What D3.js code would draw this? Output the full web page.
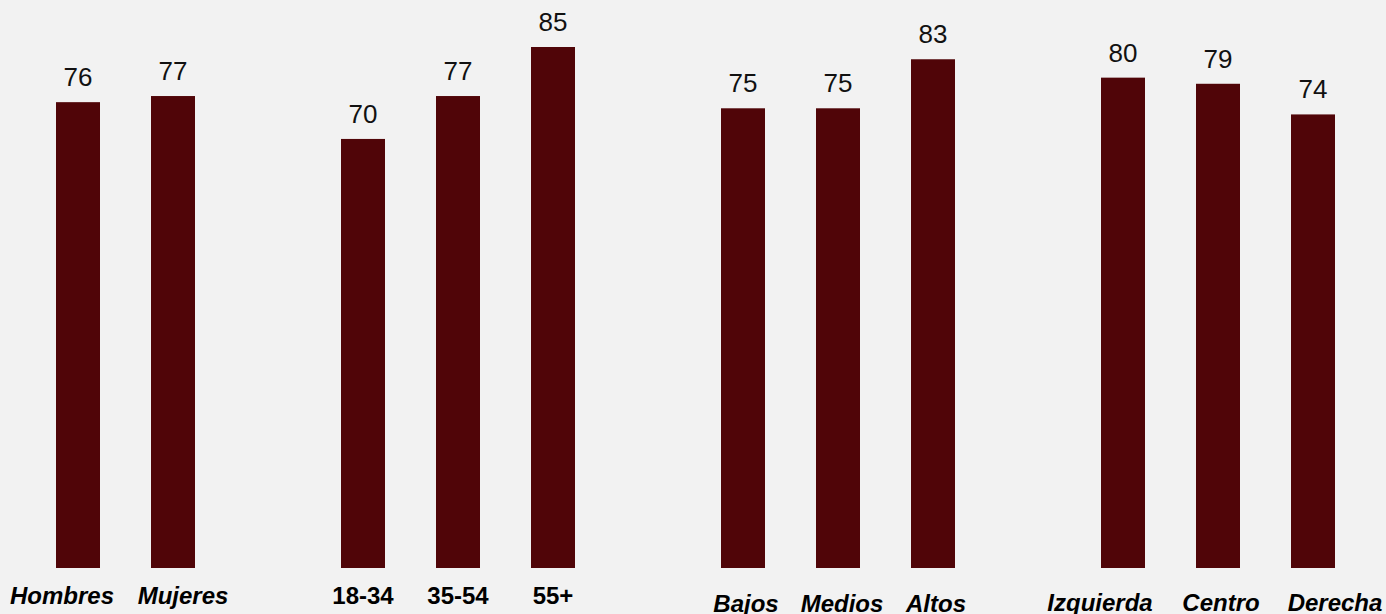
<!DOCTYPE html>
<html><head><meta charset="utf-8">
<script src="https://cdn.jsdelivr.net/npm/d3@7"></script>
<style>
html,body{margin:0;padding:0;background:#f2f2f2;}
svg{display:block;}
text{font-family:"Liberation Sans",Arial,sans-serif;}
</style></head>
<body>
<script>
// Data (empty strings = blank separator slots)
const categories = ["Hombres","Mujeres","","18-34","35-54","55+","","Bajos","Medios","Altos","","Izquierda","Centro","Derecha"];
const values     = [76, 77, null, 70, 77, 85, null, 75, 75, 83, null, 80, 79, 74];
const italicLabel = [true, true, false, false, false, false, false, true, true, true, false, true, true, true];

// Layout (styling only)
const W = 1386, H = 614;
const labelBaseline = [604, 604, 0, 604, 604, 604, 0, 612, 612, 612, 0, 611, 611, 611];
const labelNudge    = [-16, 10, 0, 0, 0, 0, 0, 3, 4, 3, 0, -23, 3, 22];

const svg = d3.select("body").append("svg").attr("width", W).attr("height", H);
svg.append("rect").attr("width", W).attr("height", H).attr("fill", "#f2f2f2");

const idx = categories.map((_, i) => i);
const x = d3.scaleBand().domain(idx).range([30.5, 1360.5])
  .paddingInner(51/95).paddingOuter(51/190);
const y = d3.scaleLinear().domain([0, 85]).range([568, 47]);

const data = idx.filter(i => values[i] !== null).map(i => ({i, name: categories[i], v: values[i]}));

svg.selectAll("rect.bar").data(data).enter().append("rect")
  .attr("class", "bar")
  .attr("x", d => x(d.i))
  .attr("y", d => y(d.v))
  .attr("width", x.bandwidth())
  .attr("height", d => y(0) - y(d.v))
  .attr("fill", "#500508");

svg.selectAll("text.val").data(data).enter().append("text")
  .attr("class", "val")
  .attr("x", d => x(d.i) + x.bandwidth()/2)
  .attr("y", d => y(d.v) - 16)
  .attr("text-anchor", "middle")
  .attr("font-size", 26)
  .attr("fill", "#111")
  .text(d => d.v);

svg.selectAll("text.cat").data(data).enter().append("text")
  .attr("class", "cat")
  .attr("x", d => x(d.i) + x.bandwidth()/2 + labelNudge[d.i])
  .attr("y", d => labelBaseline[d.i])
  .attr("text-anchor", "middle")
  .attr("font-size", 24)
  .attr("font-weight", "bold")
  .attr("font-style", d => italicLabel[d.i] ? "italic" : "normal")
  .attr("fill", "#000")
  .text(d => d.name);
</script>
</body></html>
